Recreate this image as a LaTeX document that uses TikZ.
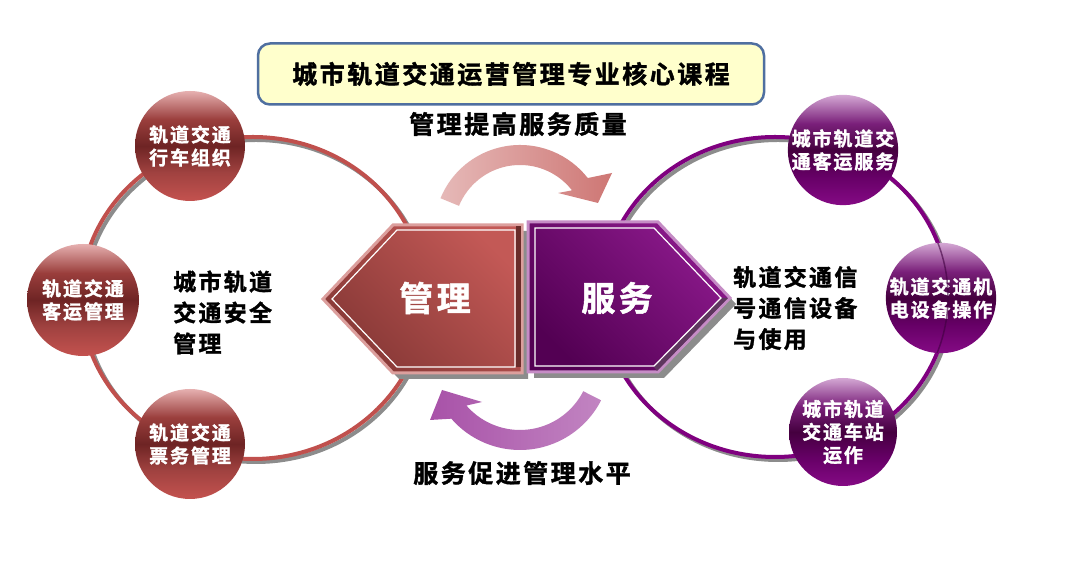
\documentclass[tikz,border=0pt]{standalone}
\usepackage{fontspec}
\newfontfamily\cjk{Noto Sans CJK SC}[BoldFont={* Bold}, BoldFeatures={FakeBold=1.5}, LetterSpace=10]
\definecolor{redln}{HTML}{C0504D}
\definecolor{purln}{HTML}{7F007F}
\definecolor{shd}{HTML}{8C8C8C}
\definecolor{titlefill}{HTML}{FFFFCC}
\definecolor{titledraw}{HTML}{4F6FA0}
\definecolor{rA}{HTML}{C4524F}
\definecolor{rB}{HTML}{A04240}
\definecolor{rC}{HTML}{6E2424}
\definecolor{rD}{HTML}{9A3E3C}
\definecolor{rE}{HTML}{E6B0B0}
\definecolor{pA}{HTML}{850A85}
\definecolor{pB}{HTML}{660066}
\definecolor{pC}{HTML}{45003F}
\definecolor{pD}{HTML}{7A207A}
\definecolor{pE}{HTML}{D4A8D4}
\pgfdeclareverticalshading{redsph}{100bp}{color(0bp)=(rA); color(25bp)=(rA); color(38bp)=(rB); color(50bp)=(rC); color(62bp)=(rD); color(75bp)=(rE); color(100bp)=(rE)}
\pgfdeclareverticalshading{pursph}{100bp}{color(0bp)=(pA); color(25bp)=(pA); color(38bp)=(pB); color(50bp)=(pC); color(62bp)=(pD); color(75bp)=(pE); color(100bp)=(pE)}
\begin{document}
\begin{tikzpicture}[x=1pt,y=1pt,
  redring/.style={draw=redln, line width=4pt},
  purring/.style={draw=purln, line width=4pt},
  ringshadow/.style={draw=shd, line width=4pt},
  redball/.style={circle, minimum size=110pt, inner sep=0pt, shading=redsph,
    text=white, align=center, font=\cjk\bfseries\fontsize{19}{23}\selectfont},
  purball/.style={circle, minimum size=110pt, inner sep=0pt, shading=pursph,
    text=white, align=center, font=\cjk\bfseries\fontsize{19}{23}\selectfont},
  hexlabel/.style={text=white, font=\cjk\bfseries\fontsize{34}{38}\selectfont, inner sep=0pt},
  biglabel/.style={text=black, font=\cjk\bfseries\fontsize{25}{30}\selectfont, inner sep=0pt},
  sidetext/.style={text=black, align=left, font=\cjk\bfseries\fontsize{23}{31}\selectfont, inner sep=0pt, anchor=west},
  titlebox/.style={draw=titledraw, fill=titlefill, line width=2.5pt, rounded corners=12pt,
    minimum width=506pt, minimum height=61pt, text=black, font=\cjk\bfseries\fontsize{25}{30}\selectfont}
]
\useasboundingbox (0,0) rectangle (1080,585);
\fill[white] (0,0) rectangle (1080,585);

% rings
\draw[ringshadow] (256,284) ellipse[x radius=172, y radius=161];
\draw[redring] (253,287) ellipse[x radius=172, y radius=161];
\draw[ringshadow] (778,285) ellipse[x radius=173, y radius=160];
\draw[purring] (775,288) ellipse[x radius=173, y radius=160];

% top curved arrow
\begin{scope}[shift={(520,354)}]
\shade[left color=redln!40!white, right color=redln!78!white]
  (157.6:86) arc[start angle=157.6, end angle=38, radius=86]
  -- (92,58) -- (78,28) -- (38,38)
  -- (38:66) arc[start angle=38, end angle=157.6, radius=66] -- cycle;
\end{scope}
% bottom curved arrow
\begin{scope}[shift={(520,226)}]
\shade[left color=purln!68!white, right color=purln!48!white]
  (-27:91) arc[start angle=-27, end angle=-139, radius=91]
  -- (-90,-61) -- (-78,-31) -- (-38,-43)
  -- (-139:71) arc[start angle=-139, end angle=-27, radius=71] -- cycle;
\end{scope}

% hexagon shadows
\fill[shd] (329,280) -- (399,354) -- (528,354) -- (528,206) -- (399,206) -- cycle;
\fill[shd] (534,357) -- (664,357) -- (736,281) -- (664,207) -- (534,207) -- cycle;

% left hexagon
\shade[top color=redln!95!white, bottom color=redln!70!black, shading angle=-45,
  draw=redln!55!white, line width=3pt]
  (323,286) -- (393,360) -- (522,360) -- (522,212) -- (393,212) -- cycle;
\fill[redln!55!black] (516,218) rectangle (521,359);
\draw[white, line width=1.2pt] (332,286) -- (397,355) -- (515,355) -- (515,218) -- (397,218) -- cycle;

% right hexagon
\shade[top color=purln!90!white, bottom color=purln!65!black, shading angle=-45,
  draw=purln!45!white, line width=3pt]
  (528,363) -- (658,363) -- (730,287) -- (658,213) -- (528,213) -- cycle;
\fill[purln!45!shd!70!black] (654,218) -- (721,287) -- (728,287) -- (657,214) -- cycle;
\draw[white, line width=1.2pt] (535,357) -- (654,357) -- (721,287) -- (654,219) -- (535,219) -- cycle;

\node[hexlabel] (guanli) at (435,287) {管理};
\node[hexlabel] (fuwu) at (617,287) {服务};

% title and labels
\node[titlebox] (title) at (511,511) {城市轨道交通运营管理专业核心课程};
\node[biglabel] (top) at (518,461) {管理提高服务质量};
\node[biglabel] (bottom) at (522,112) {服务促进管理水平};

\node[sidetext] (lefttext) at (173,272.5) {城市轨道\\交通安全\\管理};
\node[sidetext] (righttext) at (733,277) {轨道交通信\\号通信设备\\与使用};

% spheres
\node[redball] (L1) at (190,439) {轨道交通\\行车组织};
\node[redball, minimum size=112pt] (L2) at (83,285) {轨道交通\\客运管理};
\node[redball] (L3) at (190,141) {轨道交通\\票务管理};
\node[purball] (R1) at (843,435) {城市轨道交\\通客运服务};
\node[purball] (R2) at (941,287) {轨道交通机\\电设备操作};
\node[purball, minimum size=108pt] (R3) at (843,153) {城市轨道\\交通车站\\运作};

% ring line seen through the middle right sphere
\begin{scope}
\clip (R2.center) circle[radius=55];
\draw[purln!50!black, line width=1.5pt, opacity=0.6] (775,288) ellipse[x radius=173, y radius=160];
\end{scope}
\end{tikzpicture}
\end{document}
